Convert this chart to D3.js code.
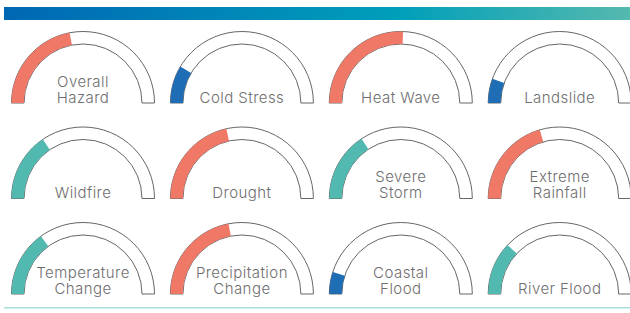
<!DOCTYPE html>
<html><head><meta charset="utf-8">
<script src="https://cdn.jsdelivr.net/npm/d3@7"></script>
<style>html,body{margin:0;padding:0;background:#fff;}svg{display:block;}</style>
</head><body>
<svg id="chart" width="630" height="313"></svg>
<script>
const labels = [["Overall","Hazard"],["Cold Stress"],["Heat Wave"],["Landslide"],
  ["Wildfire"],["Drought"],["Severe","Storm"],["Extreme","Rainfall"],
  ["Temperature","Change"],["Precipitation","Change"],["Coastal","Flood"],["River Flood"]];
const values = [0.44, 0.17, 0.51, 0.11, 0.31, 0.43, 0.315, 0.41, 0.30, 0.44, 0.10, 0.24];
const levels = ["high","low","high","low","mid","high","mid","high","mid","high","low","mid"];
const levelColors = {high:"#ef7867", low:"#1f6db5", mid:"#52b9b0"};

const svg = d3.select("#chart");
const defs = svg.append("defs");
const grad = defs.append("linearGradient").attr("id","topGrad").attr("x1","0%").attr("x2","100%");
grad.append("stop").attr("offset","0%").attr("stop-color","#0067b4");
grad.append("stop").attr("offset","63%").attr("stop-color","#009fba");
grad.append("stop").attr("offset","100%").attr("stop-color","#55b9ae");
svg.append("rect").attr("x",4).attr("y",7).attr("width",626).attr("height",13).attr("fill","url(#topGrad)");
svg.append("rect").attr("x",4).attr("y",307).attr("width",626).attr("height",1.5).attr("fill","#a6dfd9");

const angle = d3.scaleLinear().domain([0,1]).range([-Math.PI/2, Math.PI/2]);
const colX = d3.scaleLinear().domain([0,3]).range([83, 559.7]);
const rowY = d3.scaleLinear().domain([0,2]).range([103, 294]);
const rOuter = 71.5, rInner = 59;
const arc = d3.arc().innerRadius(rInner).outerRadius(rOuter);

labels.forEach((lab, i) => {
  const g = svg.append("g").attr("transform", `translate(${colX(i%4)},${rowY(Math.floor(i/4))})`);
  g.append("path").attr("d", arc({startAngle:angle(0), endAngle:angle(1)}))
    .attr("fill","#fff").attr("stroke","#555").attr("stroke-width",0.9);
  g.append("path").attr("d", arc({startAngle:angle(0), endAngle:angle(values[i])}))
    .attr("fill", levelColors[levels[i]]);
  const n = lab.length;
  lab.forEach((s, j) => {
    g.append("text").attr("text-anchor","middle")
      .attr("font-family","Inter, 'Open Sans', sans-serif").attr("font-size",15)
      .attr("font-weight",350)
      .attr("letter-spacing",0.45).attr("fill","#6e6e6e")
      .attr("x",0).attr("y", -0.5 - (n-1-j)*16).text(s);
  });
});
</script>
</body></html>
